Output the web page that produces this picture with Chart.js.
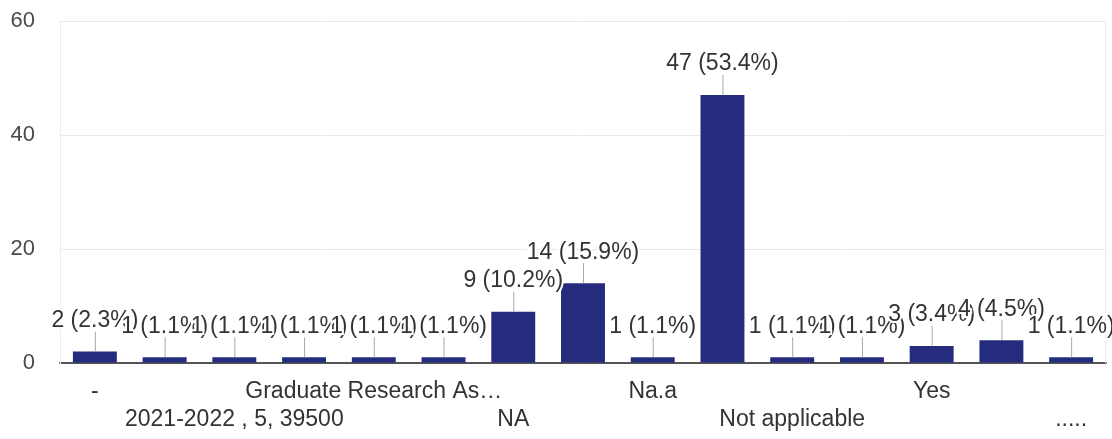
<!DOCTYPE html>
<html>
<head>
<meta charset="utf-8">
<title>Respuestas</title>
<script src="https://cdn.jsdelivr.net/npm/chart.js@4/dist/chart.umd.min.js"></script>
<style>
    body { margin: 0; background: #fff; }
    canvas { display: block; }
</style>
</head>
<body>
<canvas id="grafico" width="1112" height="439"></canvas>
<script>
// Datos del gráfico
const categorias = [
    '-', '0', '2021-2022 , 5, 39500', 'Assistantship', 'Graduate Research As\u2026',
    'N/A', 'NA', 'Na', 'Na.a', 'No', 'Not applicable', 'Nothing', 'Yes', 'no', '.....'
];
const respuestas = [2, 1, 1, 1, 1, 1, 9, 14, 1, 47, 1, 1, 3, 4, 1];
const ticksY = [0, 20, 40, 60];

const totalRespuestas = respuestas.reduce((a, b) => a + b, 0);
const fuente = "'Liberation Sans', Arial, sans-serif";

// Etiquetas "n (x%)" con línea guía sobre cada barra
const etiquetasBarras = {
    id: 'etiquetasBarras',
    afterDatasetsDraw(chart) {
        const ctx = chart.ctx;
        const meta = chart.getDatasetMeta(0);
        ctx.save();
        ctx.font = '23px ' + fuente;
        ctx.textAlign = 'center';
        ctx.textBaseline = 'middle';
        meta.data.forEach((barra, i) => {
            const valor = respuestas[i];
            const texto = valor + ' (' + (valor / totalRespuestas * 100).toFixed(1) + '%)';
            ctx.strokeStyle = '#a8a8a8';
            ctx.lineWidth = 1;
            ctx.beginPath();
            ctx.moveTo(barra.x + 0.5, barra.y);
            ctx.lineTo(barra.x + 0.5, barra.y - 20);
            ctx.stroke();
            ctx.lineWidth = 4;
            ctx.strokeStyle = '#fff';
            ctx.strokeText(texto, barra.x, barra.y - 31);
            ctx.fillStyle = '#333';
            ctx.fillText(texto, barra.x, barra.y - 31);
        });
        ctx.restore();
    }
};

// Borde derecho tenue del área
const bordeDerecho = {
    id: 'bordeDerecho',
    beforeDatasetsDraw(chart) {
        const { ctx, chartArea } = chart;
        ctx.save();
        ctx.strokeStyle = '#ececec';
        ctx.lineWidth = 1;
        ctx.beginPath();
        ctx.moveTo(chartArea.right - 0.5, chartArea.top);
        ctx.lineTo(chartArea.right - 0.5, chartArea.bottom);
        ctx.stroke();
        ctx.restore();
    }
};

document.addEventListener('DOMContentLoaded', () => {
    new Chart(document.getElementById('grafico').getContext('2d'), {
        type: 'bar',
        data: {
            labels: categorias,
            datasets: [{
                label: 'Respuestas',
                data: respuestas,
                backgroundColor: '#252c7d',
                categoryPercentage: 1,
                barPercentage: 0.63
            }]
        },
        options: {
            responsive: false,
            animation: false,
            layout: { padding: { top: 21, right: 6, left: 0, bottom: 0 } },
            plugins: {
                legend: { display: false },
                tooltip: { enabled: false }
            },
            scales: {
                x: {
                    grid: { display: false, drawTicks: false },
                    border: { color: '#555', width: 1.5 },
                    afterFit: (escala) => {
                        escala.height = 76;
                        escala.paddingTop = 0;
                        escala.paddingBottom = 0;
                    },
                    ticks: {
                        autoSkip: false,
                        maxRotation: 0,
                        padding: 15,
                        color: '#333',
                        font: { family: fuente, size: 23, lineHeight: 1.22 },
                        callback: function (valor, indice) {
                            const texto = this.getLabelForValue(valor);
                            if (indice % 4 === 0) return texto;
                            if (indice % 4 === 2) return ['', texto];
                            return '';
                        }
                    }
                },
                y: {
                    min: 0,
                    max: 60,
                    afterFit: (escala) => {
                        escala.width = 60;
                        escala.paddingTop = 0;
                        escala.paddingBottom = 0;
                    },
                    afterBuildTicks: (escala) => {
                        escala.ticks = ticksY.map(v => ({ value: v }));
                    },
                    border: { display: true, color: '#ececec' },
                    grid: {
                        drawTicks: false,
                        color: (c) => c.tick && c.tick.value === 0 ? '#555' : '#e9e9e9'
                    },
                    ticks: {
                        padding: 25,
                        color: '#4a4a4a',
                        font: { family: fuente, size: 22 }
                    }
                }
            }
        },
        plugins: [bordeDerecho, etiquetasBarras]
    });
});
</script>
</body>
</html>
